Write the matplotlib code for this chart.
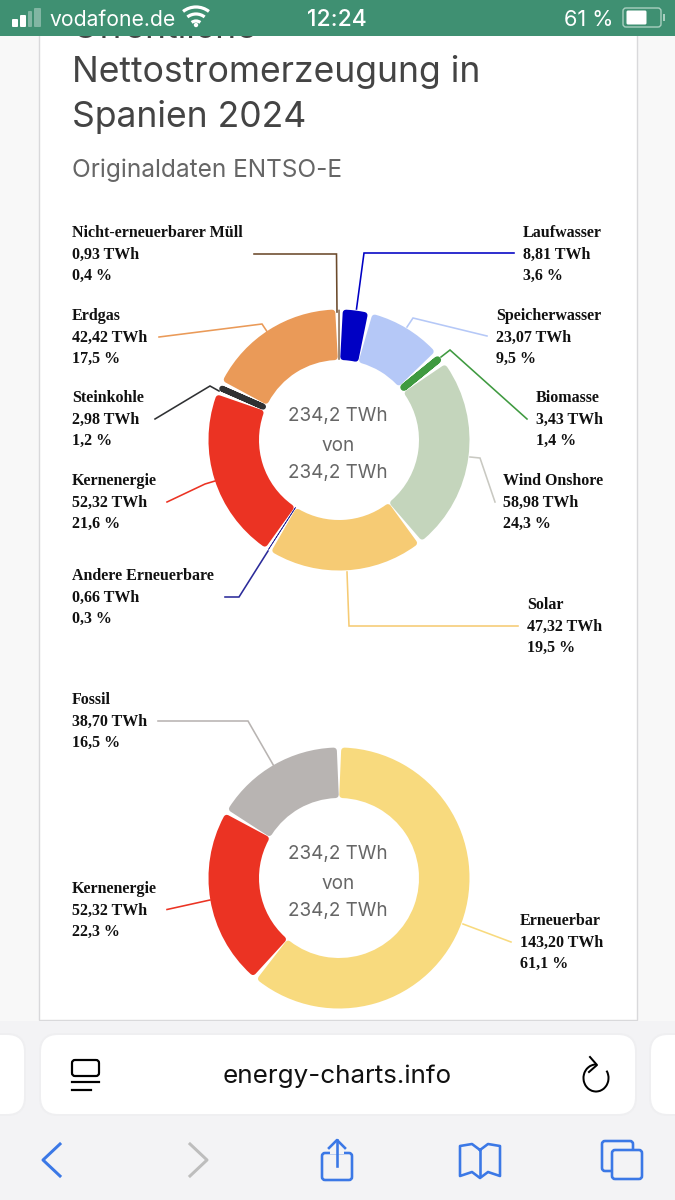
import matplotlib
matplotlib.use('Agg')
import matplotlib.pyplot as plt
from matplotlib.patches import Rectangle, FancyBboxPatch, Arc, Circle

# upper donut, clockwise from the top
names1 = ['Laufwasser', 'Speicherwasser', 'Biomasse', 'Wind Onshore', 'Solar',
          'Andere Erneuerbare', 'Kernenergie', 'Steinkohle', 'Erdgas', 'Nicht-erneuerbarer Müll']
twh1 = [8.81, 23.07, 3.43, 58.98, 47.32, 0.66, 52.32, 2.98, 42.42, 0.93]
pct1 = [3.6, 9.5, 1.4, 24.3, 19.5, 0.3, 21.6, 1.2, 17.5, 0.4]
colors1 = ['#0000c4', '#b5c8f7', '#3f9a40', '#c4d5bc', '#f6cb74',
           '#2b2b9a', '#eb3323', '#2f3133', '#ea9a58', '#6b4a2c']
leader_colors1 = ['#0000c4', '#b5c8f7', '#3f9a40', '#c9c9c2', '#f6cb74',
                  '#2b2b9a', '#eb3323', '#2f3133', '#ea9a58', '#6b4a2c']

# lower donut
names2 = ['Erneuerbar', 'Kernenergie', 'Fossil']
twh2 = [143.20, 52.32, 38.70]
pct2 = [61.1, 22.3, 16.5]
colors2 = ['#f8da7e', '#eb3323', '#b8b4b2']

# layout: label left edge, middle line y, leader polyline in screen pixels
label_x1 = [523, 496, 536, 503, 527, 72, 72, 72, 72, 72]
label_y1 = [254, 337, 419, 502, 626, 597, 502, 419, 337, 254]
leaders1 = [[(514, 253), (364, 253), (356.5, 309)],
            [(487, 336), (413, 318), (407, 327)],
            [(527, 419), (450, 350), (441, 357)],
            [(495, 502), (480, 458), (470, 457)],
            [(347, 572), (349, 626), (518, 626)],
            [(225, 597), (239, 597), (268, 551)],
            [(167, 502), (205, 484), (215, 481)],
            [(155, 419), (210, 386), (219, 391)],
            [(159, 337), (262, 324), (268, 333)],
            [(254, 254), (336.5, 254), (337, 312)]]
label_x2 = [520, 72, 72]
label_y2 = [942, 910, 721]
leaders2 = [[(511, 942), (463, 924)],
            [(167, 909.5), (210, 900)],
            [(158, 721), (248, 721), (275, 768)]]

UI = ['Inter', 'Roboto', 'DejaVu Sans']
SERIF = ['Liberation Serif', 'DejaVu Serif']
BLUE = '#3b78e6'
px = 72 / 100  # line widths are given in screen pixels

fig = plt.figure(figsize=(6.75, 12), dpi=100, facecolor='#f8f8f8')
ax = fig.add_axes([0, 0, 1, 1])


def donut(cx, cy, values, colors, start=0.0, R=130.5, r=80, gap=2.4):
    # y axis points down, so counterclock=True runs clockwise on screen
    wedges, _ = ax.pie(values, colors=colors, startangle=-90 + start, counterclock=True,
                       center=(cx, cy), radius=R)
    mid = (R + r) / 2
    for w in wedges:
        span = w.theta2 - w.theta1
        room = span / 360 * 6.2832 * mid - gap
        # thin slices become a single rounded stroke
        pad = 3.2 if room > 8 else max(room / 2, 0.3)
        inset = (gap / 2 + pad) / mid * 57.296
        c = (w.theta1 + w.theta2) / 2
        half = max(span / 2 - inset, 0.05)
        w.set_theta1(c - half)
        w.set_theta2(c + half)
        w.set_radius(R - pad)
        w.set_width(R - r - 2 * pad)
        w.set_edgecolor(w.get_facecolor())
        w.set_linewidth(2 * pad * px)
        w.set_joinstyle('round')
        w.set_zorder(3)
    for dy, s in zip((-24.5, 6, 33), ('234,2 TWh', 'von', '234,2 TWh')):
        ax.text(cx - 1, cy + dy, s, family=UI, fontsize=13.6, color='#666666',
                ha='center', va='center', zorder=4)


def labels(names, twh, pct, xs, ys, leaders, colors):
    for n, v, p, x, y, pts, c in zip(names, twh, pct, xs, ys, leaders, colors):
        lines = [n, f'{v:.2f} TWh'.replace('.', ','), f'{p:.1f} %'.replace('.', ',')]
        for dy, s in zip((-21, 0.5, 22), lines):
            ax.text(x, y + dy, s, family=SERIF, fontsize=11.5, fontweight='bold',
                    color='#111111', ha='left', va='center', zorder=5)
        ax.plot(*zip(*pts), color=c, lw=1.6 * px, zorder=2, solid_joinstyle='miter')


# page
ax.add_patch(Rectangle((39, 0), 598, 1020, fc='white', ec='#d9d9db', lw=1.4 * px, zorder=1))

ax.text(72, 38, 'Öffentliche', family=UI, fontsize=25.6, color='#444444', va='baseline', zorder=1.5)
ax.text(72, 82, 'Nettostromerzeugung in', family=UI, fontsize=25.6, color='#444444', va='baseline', zorder=2)
ax.text(72, 127, 'Spanien 2024', family=UI, fontsize=25.6, color='#444444', va='baseline', zorder=2)
ax.text(72, 177, 'Originaldaten ENTSO-E', family=UI, fontsize=17.6, color='#666666', va='baseline', zorder=2)

donut(339, 440, twh1, colors1, start=0.7)
labels(names1, twh1, pct1, label_x1, label_y1, leaders1, leader_colors1)
donut(339, 878, twh2, colors2)
labels(names2, twh2, pct2, label_x2, label_y2, leaders2, colors2)

# status bar
ax.add_patch(Rectangle((0, 0), 675, 36, fc='#3f9072', ec='none', zorder=6))
for x0, x1, top, a in [(12, 18, 19, 1), (20, 26, 15, 1), (28, 32, 11, .35), (34, 41, 8, .35)]:
    ax.add_patch(FancyBboxPatch((x0 + 1, top + 1), x1 - x0 - 2, 27 - top - 2, boxstyle='round,pad=1',
                                fc='white', ec='none', alpha=a, zorder=7))
ax.text(49, 26, 'vodafone.de', family=UI, fontsize=15.2, color='white', va='baseline', zorder=7)
for rad in (21, 14, 7):
    ax.add_patch(Arc((196, 28), 2 * rad, 2 * rad, theta1=232, theta2=308, color='white', lw=3.2 * px, zorder=7))
ax.add_patch(Circle((196, 25), 2.2, fc='white', ec='none', zorder=7))
ax.text(337, 26, '12:24', family=UI, fontsize=16.5, fontweight='medium', color='white', ha='center', va='baseline', zorder=7)
ax.text(613, 26, '61 %', family=UI, fontsize=15.6, color='white', ha='right', va='baseline', zorder=7)
ax.add_patch(FancyBboxPatch((626, 11), 32, 13, boxstyle='round,pad=3', fc='none', ec='#a9cfc0', lw=1.4 * px, zorder=7))
ax.add_patch(FancyBboxPatch((628, 12), 17, 11, boxstyle='round,pad=1.5', fc='white', ec='none', zorder=7))
ax.add_patch(Rectangle((663, 14), 1.5, 7, fc='#a9cfc0', ec='none', zorder=7))

# browser bar
ax.add_patch(Rectangle((0, 1021), 675, 179, fc='#f3f3f5', ec='none', zorder=6))
for x0, x1 in [(-40, 25), (40, 636), (650, 720)]:
    ax.add_patch(FancyBboxPatch((x0 + 18, 1034 + 18), x1 - x0 - 36, 81 - 36, boxstyle='round,pad=18',
                                fc='white', ec='#efeff1', lw=2 * px, zorder=7))
ax.text(337.5, 1076, 'energy-charts.info', family=UI, fontsize=18.7, color='#111111', ha='center', va='center', zorder=8)

ax.add_patch(FancyBboxPatch((75, 1063), 21, 10, boxstyle='round,pad=3', fc='none', ec='black', lw=2.2 * px, zorder=8))
ax.plot([72, 99], [1082, 1082], color='black', lw=2.2 * px, zorder=8)
ax.plot([72, 91], [1090, 1090], color='black', lw=2.2 * px, zorder=8)

ax.add_patch(Arc((596, 1078), 25, 27, theta1=-35, theta2=270, color='black', lw=2 * px, zorder=8))
ax.plot([590, 597, 589], [1057, 1065, 1072], color='black', lw=2 * px, zorder=8)

ax.plot([60, 43, 60], [1144, 1160, 1176], color=BLUE, lw=3 * px, zorder=8)
ax.plot([190, 207, 190], [1144, 1160, 1176], color='#bdbdbd', lw=3 * px, zorder=8)

ax.add_patch(FancyBboxPatch((325, 1156), 24, 21, boxstyle='round,pad=3', fc='none', ec=BLUE, lw=2.6 * px, zorder=8))
ax.add_patch(Rectangle((330, 1145), 14, 9, fc='#f3f3f5', ec='none', zorder=8.5))
ax.plot([337, 337], [1140, 1166], color=BLUE, lw=2.6 * px, zorder=9)
ax.plot([329, 337, 345], [1148, 1140, 1148], color=BLUE, lw=2.6 * px, zorder=9)

ax.plot([480, 480], [1150, 1176], color=BLUE, lw=2.6 * px, zorder=8)
ax.plot([480, 472, 460, 460, 472, 480, 488, 500, 500, 488, 480],
        [1150, 1144, 1146, 1176, 1172, 1178, 1172, 1176, 1146, 1144, 1150],
        color=BLUE, lw=2.6 * px, zorder=8, solid_joinstyle='round')

ax.add_patch(FancyBboxPatch((605, 1144), 25, 24, boxstyle='round,pad=3', fc='none', ec=BLUE, lw=2.6 * px, zorder=8))
ax.add_patch(FancyBboxPatch((615, 1153), 24, 23, boxstyle='round,pad=3', fc='#f3f3f5', ec=BLUE, lw=2.6 * px, zorder=8.5))

ax.set_xlim(0, 675)
ax.set_ylim(1200, 0)
ax.set_aspect('auto')
ax.axis('off')

fig.savefig('out.png', dpi=100, facecolor=fig.get_facecolor())
